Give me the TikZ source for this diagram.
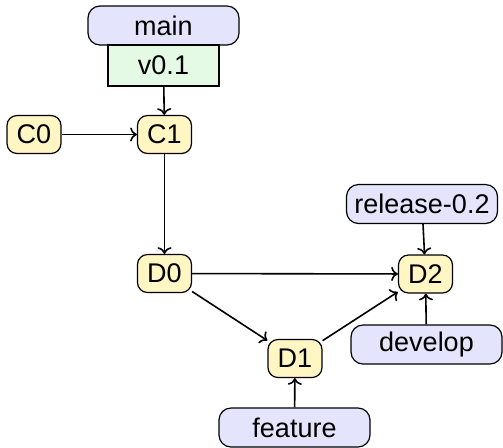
\documentclass[tikz,border=0pt]{standalone}
\usepackage{fontspec}
\setmainfont{Liberation Sans}
\usetikzlibrary{arrows.meta}
\definecolor{commitfill}{RGB}{255,246,196}
\definecolor{branchfill}{RGB}{228,228,252}
\definecolor{tagfill}{RGB}{228,250,228}
\tikzset{
  label font/.style={font=\fontsize{13.5}{16}\selectfont},
  commit/.style={draw, fill=commitfill, rounded corners=5pt, line width=0.6pt,
    minimum width=27pt, minimum height=19pt, inner sep=1pt, label font},
  branch/.style={draw, fill=branchfill, rounded corners=6pt, line width=0.6pt,
    minimum width=75.5pt, minimum height=19.5pt, inner sep=1pt, label font},
  tag/.style={draw, fill=tagfill, line width=0.6pt,
    minimum width=55.5pt, minimum height=20.5pt, inner sep=1pt, label font},
  link/.style={->, line width=0.8pt}
}
\begin{document}
\begin{tikzpicture}[x=0.5pt, y=-0.5pt]
  \useasboundingbox (0,0) rectangle (503,447);
  % commits
  \node[commit] (C0) at (34,134.5) {C0};
  \node[commit] (C1) at (164.5,134.5) {C1};
  \node[commit] (D0) at (164.5,273.5) {D0};
  \node[commit] (D1) at (295,358.5) {D1};
  \node[commit] (D2) at (425.5,274) {D2};
  % branch heads and tag
  \node[branch] (main) at (163.5,25.5) {main};
  \node[tag] (v01) at (163.5,65.5) {v0.1};
  \node[branch] (rel) at (422,204) {release-0.2};
  \node[branch] (dev) at (426.5,344.5) {develop};
  \node[branch] (feat) at (294.5,427.5) {feature};
  % history
  \draw[link] (C0) -- (C1);
  \draw[link] (C1) -- (D0);
  \draw[link] (D0) -- (D2);
  \draw[link] (D0) -- (D1);
  \draw[link] (D1) -- (D2);
  % references
  \draw[link] (v01) -- (C1);
  \draw[link] (rel) -- (D2);
  \draw[link] (dev) -- (D2);
  \draw[link] (feat) -- (D1);
\end{tikzpicture}
\end{document}
